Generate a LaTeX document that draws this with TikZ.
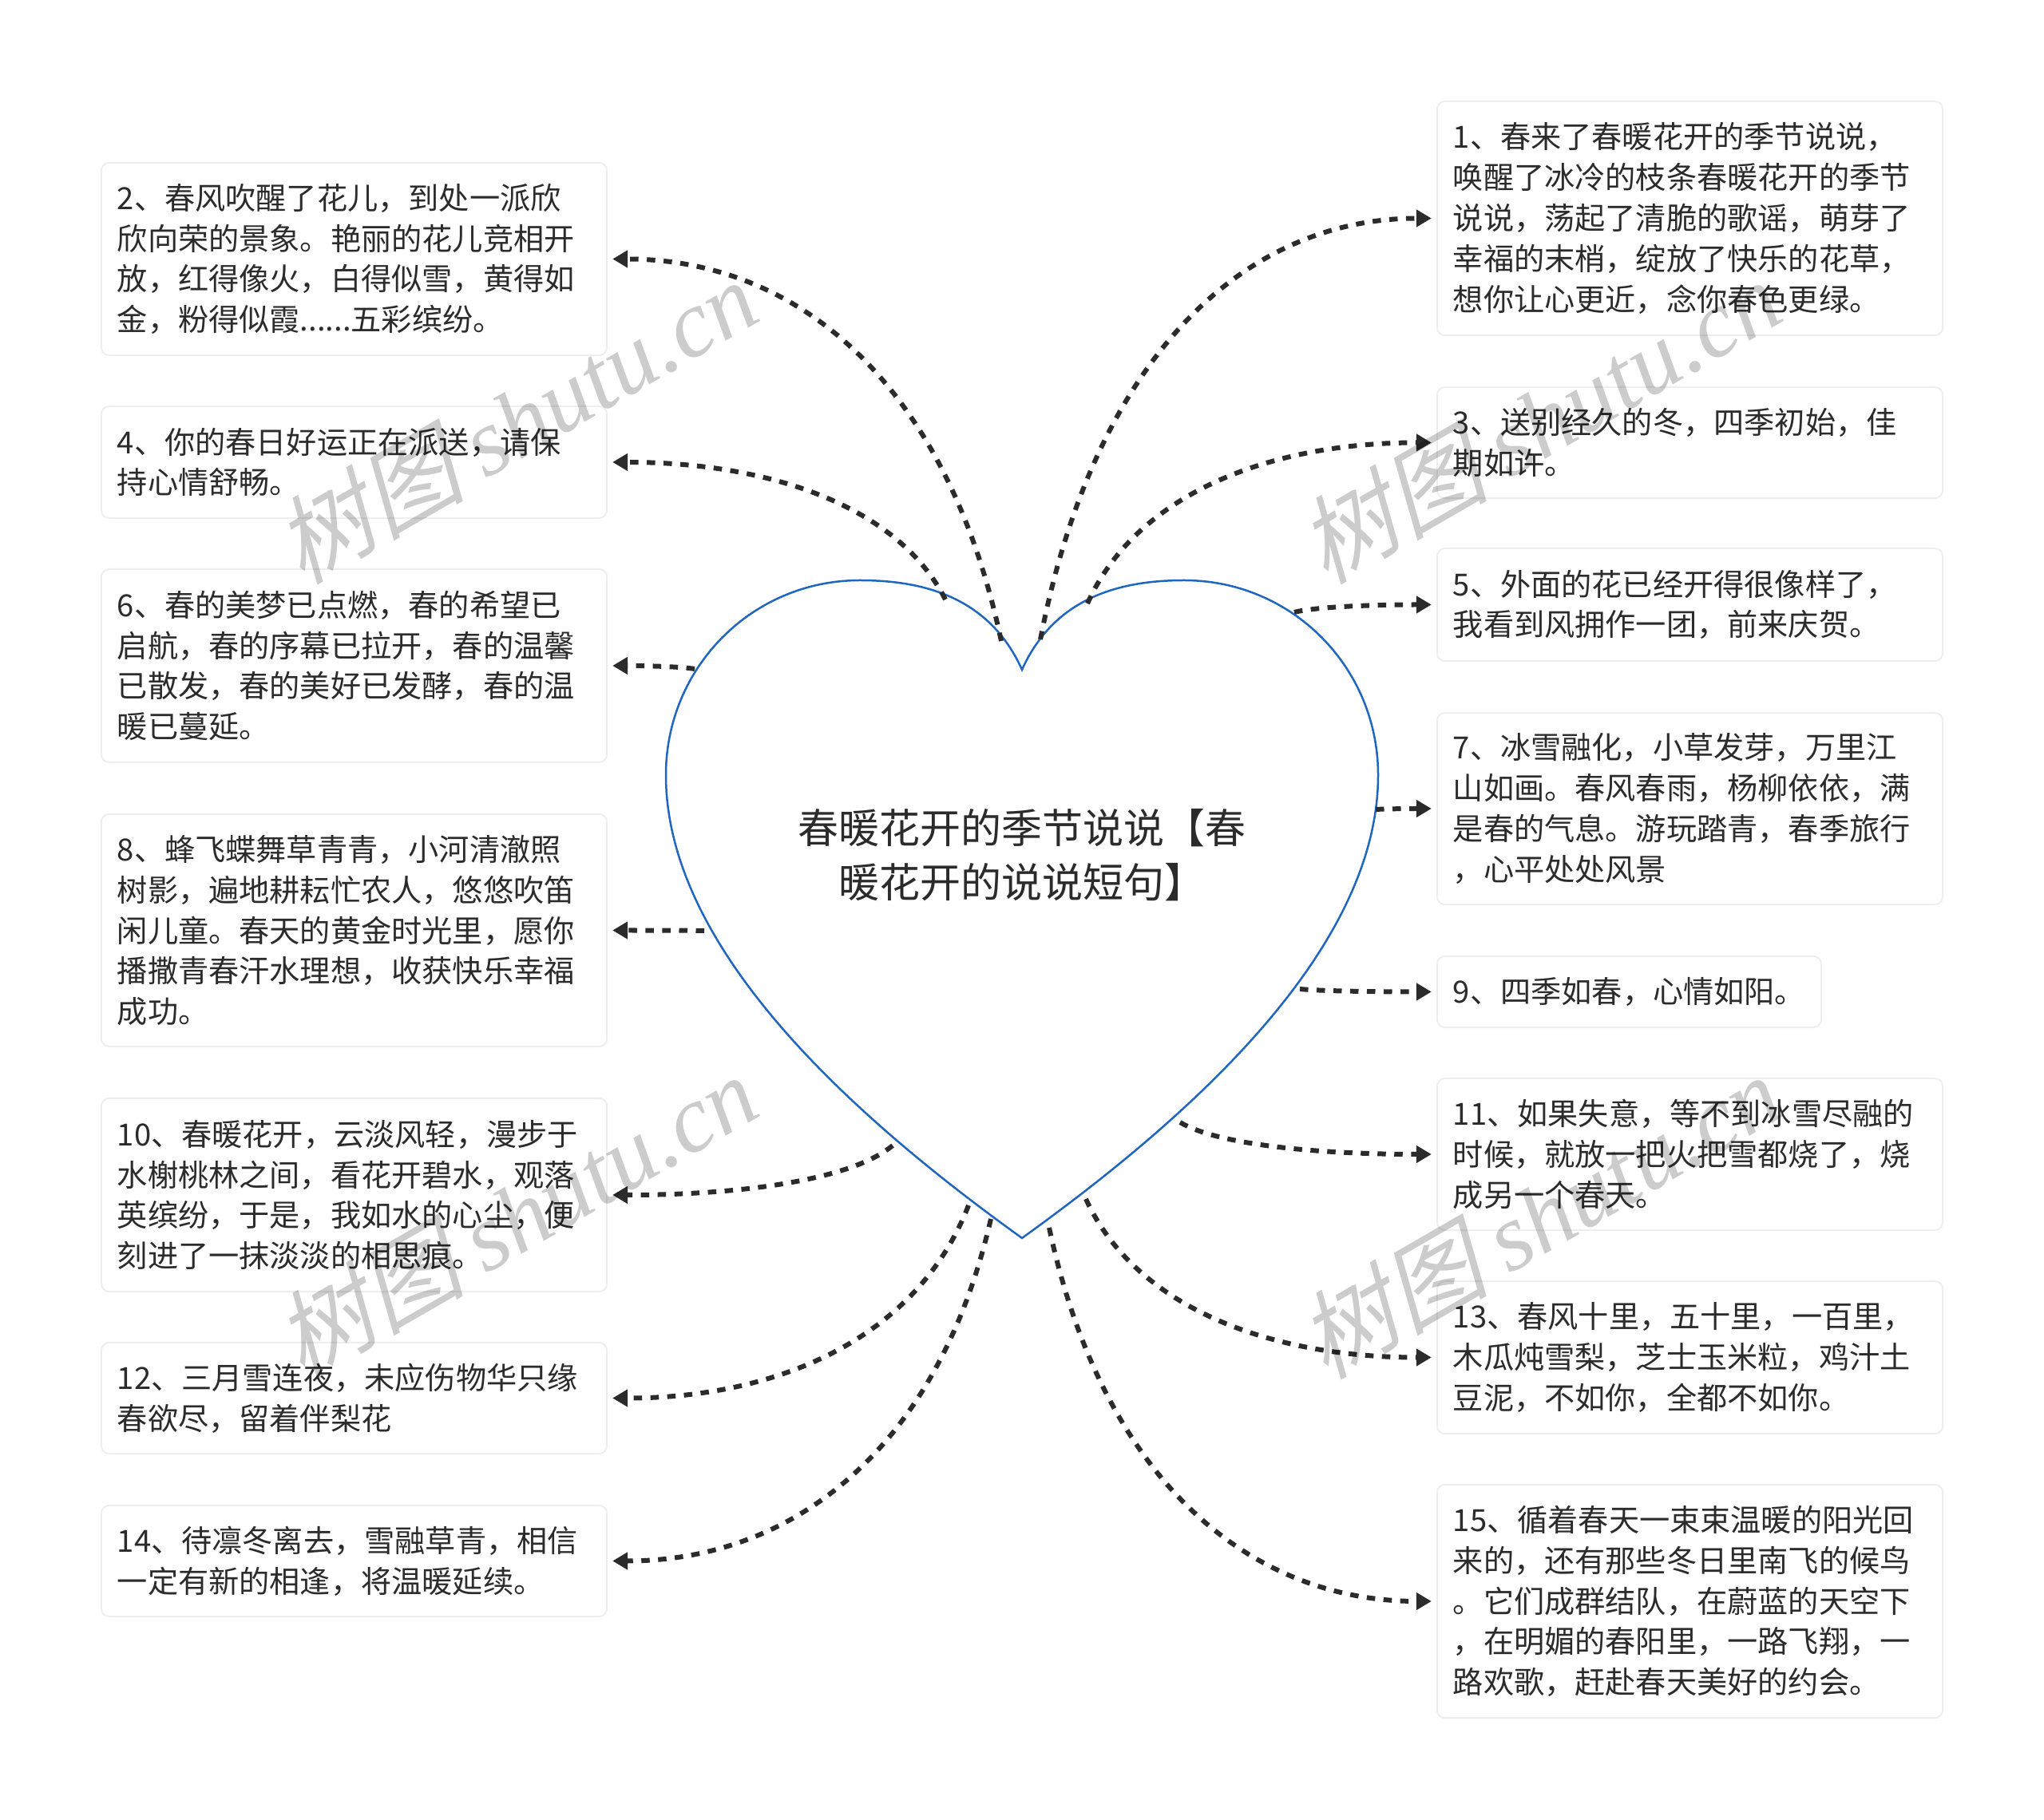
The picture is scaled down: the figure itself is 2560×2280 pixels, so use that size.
\documentclass[tikz,border=0pt]{standalone}
\usepackage{fontspec}
\setmainfont{Noto Sans CJK SC}
\newfontfamily\wmcjk[FakeSlant=0.25]{Noto Sans CJK SC}
\newfontfamily\wmlat{Liberation Serif}
\usetikzlibrary{arrows.meta,calc}
\definecolor{inkc}{HTML}{2B2B2B}
\definecolor{heartc}{HTML}{1F66C0}
\definecolor{boxc}{HTML}{ECEEF0}
\tikzset{
  itembox/.style={draw=boxc,line width=0.02cm,rounded corners=0.1cm,fill=white,outer sep=0pt,
    inner xsep=0.2cm,inner ysep=0pt,align=left,text=inkc,text width=5.93cm,minimum width=6.33cm,
    font=\fontsize{10.86pt}{14.46pt}\selectfont},
  conn/.style={draw=inkc,line width=0.06cm,dash pattern=on 0.105cm off 0.105cm,
    -{Triangle[length=0.19cm,width=0.21cm]},shorten >=0.07cm},
  wmark/.style={rotate=30,text=black,text opacity=0.2,inner sep=0pt,
    font=\fontsize{34pt}{40pt}\selectfont},
  heartline/.style={draw=heartc,line width=0.025cm,fill=white}
}
\newcommand\linkto[2]{\draw[conn] let \p1=(#1),\p2=(#2) in (\p1) .. controls
  ({\x1+0.14*(\x2-\x1)},{\y1+0.68*(\y2-\y1)}) and ({\x1+0.52*(\x2-\x1)},\y2) .. (\p2);}
\newcommand\wmtext{{\wmcjk 树图} {\wmlat\itshape shutu.cn}}
\begin{document}
\begin{tikzpicture}[x=0.01cm,y=-0.01cm]
\useasboundingbox[fill=white] (0,0) rectangle (2560,2280);
% heart
\coordinate (notch) at (1280,839);
\coordinate (tip) at (1280,1551);
\path[heartline] (notch) .. controls (1320,750) and (1400,727) .. (1483,727)
  .. controls (1618,727) and (1726,836) .. (1726,971)
  .. controls (1726,1190) and (1490,1400) .. (tip)
  .. controls (1070,1400) and (834,1190) .. (834,971)
  .. controls (834,836) and (942,727) .. (1077,727)
  .. controls (1160,727) and (1240,750) .. (notch) -- cycle;
\node[inner sep=0pt,align=center,text=inkc,font=\fontsize{14.5pt}{19.3pt}\selectfont] (title) at (1280,1071)
  {春暖花开的季节说说【春\\暖花开的说说短句】};
% left boxes
\node[itembox,minimum height=2.41cm] (n2) at (443.5,324.5) {2、春风吹醒了花儿，到处一派欣\\欣向荣的景象。艳丽的花儿竞相开\\放，红得像火，白得似雪，黄得如\\金，粉得似霞......五彩缤纷。};
\node[itembox,minimum height=1.40cm] (n4) at (443.5,579) {4、你的春日好运正在派送，请保\\持心情舒畅。};
\node[itembox,minimum height=2.42cm] (n6) at (443.5,834) {6、春的美梦已点燃，春的希望已\\启航，春的序幕已拉开，春的温馨\\已散发，春的美好已发酵，春的温\\暖已蔓延。};
\node[itembox,minimum height=2.91cm] (n8) at (443.5,1165.5) {8、蜂飞蝶舞草青青，小河清澈照\\树影，遍地耕耘忙农人，悠悠吹笛\\闲儿童。春天的黄金时光里，愿你\\播撒青春汗水理想，收获快乐幸福\\成功。};
\node[itembox,minimum height=2.42cm] (n10) at (443.5,1497) {10、春暖花开，云淡风轻，漫步于\\水榭桃林之间，看花开碧水，观落\\英缤纷，于是，我如水的心尘，便\\刻进了一抹淡淡的相思痕。};
\node[itembox,minimum height=1.39cm] (n12) at (443.5,1751.5) {12、三月雪连夜，未应伤物华只缘\\春欲尽，留着伴梨花};
\node[itembox,minimum height=1.39cm] (n14) at (443.5,1955.5) {14、待凛冬离去，雪融草青，相信\\一定有新的相逢，将温暖延续。};
% right boxes
\node[itembox,minimum height=2.93cm] (n1) at (2116.5,273.5) {1、春来了春暖花开的季节说说，\\唤醒了冰冷的枝条春暖花开的季节\\说说，荡起了清脆的歌谣，萌芽了\\幸福的末梢，绽放了快乐的花草，\\想你让心更近，念你春色更绿。};
\node[itembox,minimum height=1.39cm] (n3) at (2116.5,554.5) {3、送别经久的冬，四季初始，佳\\期如许。};
\node[itembox,minimum height=1.41cm] (n5) at (2116.5,757.5) {5、外面的花已经开得很像样了，\\我看到风拥作一团，前来庆贺。};
\node[itembox,minimum height=2.40cm] (n7) at (2116.5,1013) {7、冰雪融化，小草发芽，万里江\\山如画。春风春雨，杨柳依依，满\\是春的气息。游玩踏青，春季旅行\\，心平处处风景};
\node[itembox,text width=4.41cm,minimum width=4.81cm,minimum height=0.89cm] (n9) at (2040.5,1242.5) {9、四季如春，心情如阳。};
\node[itembox,minimum height=1.90cm] (n11) at (2116.5,1446) {11、如果失意，等不到冰雪尽融的\\时候，就放一把火把雪都烧了，烧\\成另一个春天。};
\node[itembox,minimum height=1.91cm] (n13) at (2116.5,1700.5) {13、春风十里，五十里，一百里，\\木瓜炖雪梨，芝士玉米粒，鸡汁土\\豆泥，不如你，全都不如你。};
\node[itembox,minimum height=2.92cm] (n15) at (2116.5,2006) {15、循着春天一束束温暖的阳光回\\来的，还有那些冬日里南飞的候鸟\\。它们成群结队，在蔚蓝的天空下\\，在明媚的春阳里，一路飞翔，一\\路欢歌，赶赴春天美好的约会。};
% connector starts on the heart
\coordinate (s1) at (1303,801);
\coordinate (s3) at (1362,756);
\coordinate (s5) at (1621,767);
\coordinate (s7) at (1723,1014);
\coordinate (s9) at (1628,1239);
\coordinate (s11) at (1478,1406);
\coordinate (s13) at (1360,1502);
\coordinate (s15) at (1314,1538);
\coordinate (s2) at (1254,803);
\coordinate (s4) at (1184,751);
\coordinate (s6) at (870,838);
\coordinate (s8) at (882,1166);
\coordinate (s10) at (1118,1435);
\coordinate (s12) at (1213,1510);
\coordinate (s14) at (1241,1527);
\linkto{s1}{n1.west}
\linkto{s3}{n3.west}
\linkto{s5}{n5.west}
\linkto{s7}{n7.west}
\linkto{s9}{n9.west}
\linkto{s11}{n11.west}
\linkto{s13}{n13.west}
\linkto{s15}{n15.west}
\linkto{s2}{n2.east}
\linkto{s4}{n4.east}
\linkto{s6}{n6.east}
\linkto{s8}{n8.east}
\linkto{s10}{n10.east}
\linkto{s12}{n12.east}
\linkto{s14}{n14.east}
% watermarks
\node[wmark] (w1) at (645,527) {\wmtext};
\node[wmark] (w2) at (1927,527) {\wmtext};
\node[wmark] (w3) at (645,1523) {\wmtext};
\node[wmark] (w4) at (1927,1523) {\wmtext};
\end{tikzpicture}
\end{document}
